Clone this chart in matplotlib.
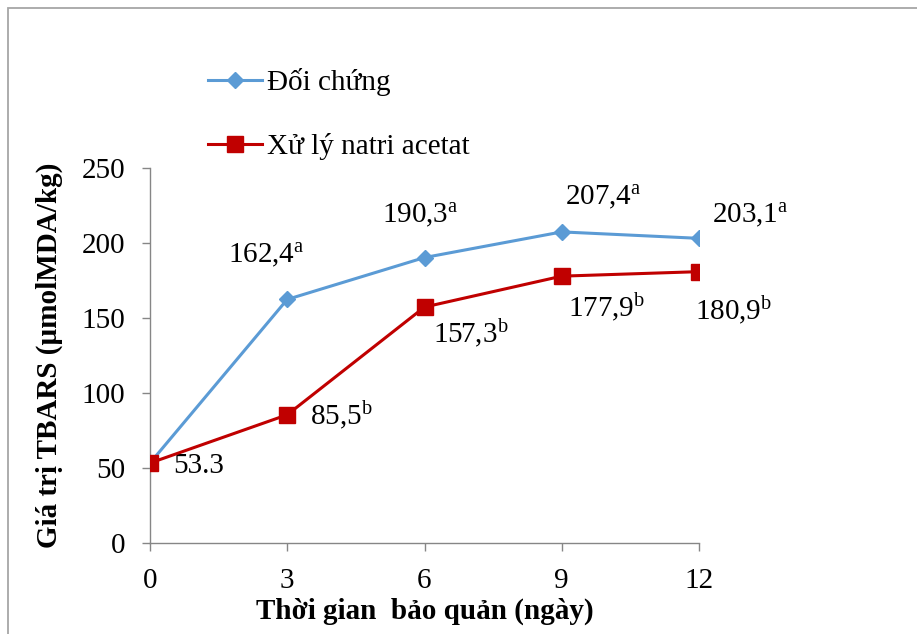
import matplotlib
matplotlib.use("Agg")
import matplotlib.pyplot as plt
from matplotlib.patches import Rectangle

days = [0, 3, 6, 9, 12]
control = [53.3, 162.4, 190.3, 207.4, 203.1]
treated = [53.3, 85.5, 157.3, 177.9, 180.9]
control_letters = ["", "a", "a", "a", "a"]
treated_letters = ["", "b", "b", "b", "b"]
series_names = ["Đối chứng", "Xử lý natri acetat"]
yticks = [0, 50, 100, 150, 200, 250]

plt.rcParams['font.family'] = ['Liberation Serif', 'DejaVu Serif']
plt.rcParams['mathtext.fontset'] = 'custom'
plt.rcParams['mathtext.rm'] = 'Liberation Serif'
plt.rcParams['mathtext.it'] = 'Liberation Serif:italic'
plt.rcParams['mathtext.bf'] = 'Liberation Serif:bold'

W, H = 917, 634
fig = plt.figure(figsize=(W/100, H/100), dpi=100)
fig.patches.append(Rectangle((8/W, -0.1), 1.2, 1 - 8/H + 0.1, transform=fig.transFigure,
                             fill=False, edgecolor='#a6a6a6', linewidth=1.3))

ax = fig.add_axes([150/W, 1 - 543/H, (699-150)/W, (543-168)/H])
blue = '#5B9BD5'
red = '#C00000'
ax.plot(days, control, color=blue, lw=2.2, marker='D', ms=8, label=series_names[0], zorder=3)
ax.plot(days, treated, color=red, lw=2.2, marker='s', ms=11, label=series_names[1], zorder=4)

ax.set_xlim(0, 12)
ax.set_ylim(0, 250)
ax.set_xticks(days)
ax.set_yticks(yticks)
for s in ['top', 'right']:
    ax.spines[s].set_visible(False)
for s in ['left', 'bottom']:
    ax.spines[s].set_color('#868686')
    ax.spines[s].set_linewidth(1.0)
ax.tick_params(axis='both', colors='#868686', length=6, width=1.0, labelsize=21, labelcolor='black')
ax.tick_params(axis='x', pad=12)
ax.tick_params(axis='y', pad=12)

ax.set_xlabel("Thời gian  bảo quản (ngày)", fontsize=21, fontweight='bold', labelpad=3)
ax.set_ylabel("Giá trị TBARS (µmolMDA/kg)", fontsize=21, fontweight='bold', labelpad=13)

def fmt(v, letter):
    s = f"{v:.1f}".replace('.', ',')
    if letter:
        s += r"$^{\mathrm{" + letter + "}}$"
    return s

# label anchor positions (left edge, baseline) in data coordinates
ctrl_pos = [None, (1.70, 186.7), (5.07, 213.3), (9.07, 225.3), (12.28, 213.3)]
trt_pos = [(0.50, 46.7), (3.50, 78.7), (6.19, 133.3), (9.14, 150.7), (11.91, 148.7)]
for v, l, p in zip(control, control_letters, ctrl_pos):
    if p is None:
        continue
    ax.text(p[0], p[1], fmt(v, l), fontsize=21, ha='left', va='baseline', clip_on=False)
for i, (v, l, p) in enumerate(zip(treated, treated_letters, trt_pos)):
    txt = f"{v:.1f}" if i == 0 else fmt(v, l)
    ax.text(p[0], p[1], txt, fontsize=21, ha='left', va='baseline', clip_on=False)

leg = fig.legend(loc='upper left', bbox_to_anchor=(208/W, 1 - 68/H), frameon=False,
                 fontsize=21, handlelength=1.86, labelspacing=1.27, handletextpad=0.17,
                 borderaxespad=0, borderpad=0)

fig.savefig("out.png", dpi=100)
